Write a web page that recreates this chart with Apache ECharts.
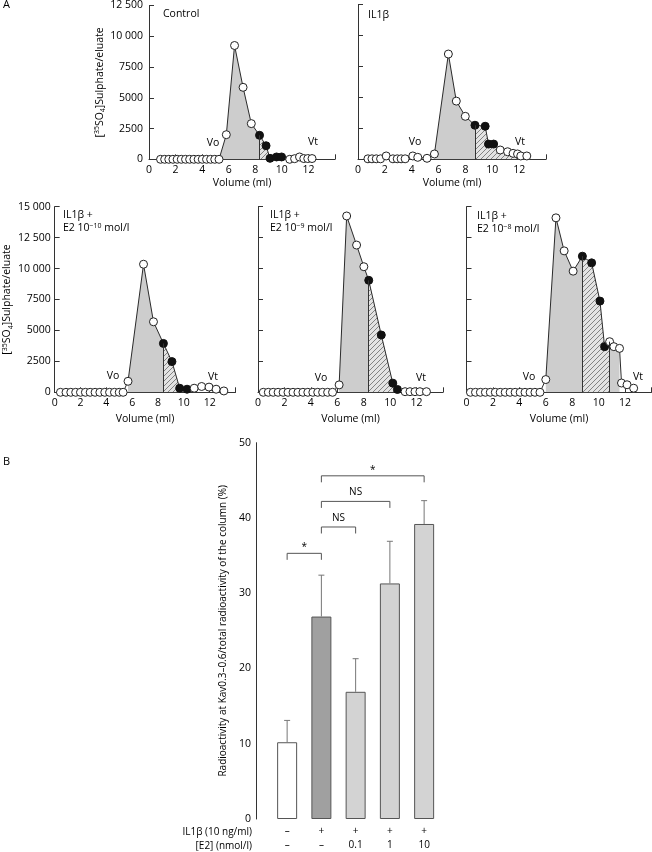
<!DOCTYPE html>
<html><head><meta charset="utf-8">
<script src="https://cdn.jsdelivr.net/npm/echarts@6/dist/echarts.min.js"></script>
<style>html,body{margin:0;padding:0;background:#fff}#c{width:652px;height:852px}</style>
</head><body><div id="c"></div>
<script>
// ---------- Panel A data (volume in ml, [35S]O4 counts per eluate fraction) ----------
const volControl = [0.87,1.18,1.49,1.80,2.12,2.43,2.75,3.06,3.38,3.70,4.01,4.33,4.64,4.95,5.27,5.82,6.44,7.08,7.70,8.32,8.81,9.11,9.60,9.98,10.59,10.96,11.33,11.65,11.95,12.27];
const cpmControl = [0,0,0,0,0,0,0,0,0,0,0,0,0,0,0,2000,9250,5850,2900,1950,1100,80,190,190,0,50,190,60,60,60];
const fillControl = [0,0,0,0,0,0,0,0,0,0,0,0,0,0,0,0,0,0,0,1,1,1,1,1,0,0,0,0,0,0];

const volIL1 = [0.74,1.04,1.36,1.68,2.10,2.60,2.92,3.21,3.51,4.08,4.45,5.14,5.69,6.73,7.32,7.99,8.71,9.47,9.72,10.10,10.59,11.14,11.55,11.88,12.12,12.57];
const cpmIL1 = [40,40,40,40,270,40,40,40,40,270,160,80,430,8500,4700,3470,2750,2670,1230,1230,750,610,480,430,270,270];
const fillIL1 = [0,0,0,0,0,0,0,0,0,0,0,0,0,0,0,0,1,1,1,1,0,0,0,0,0,0];

const volE10 = [0.45,0.88,1.25,1.63,2.00,2.38,2.75,3.13,3.50,3.88,4.25,4.63,5.00,5.30,5.68,6.88,7.65,8.42,9.08,9.68,10.25,10.80,11.38,11.95,12.50,13.10];
const cpmE10 = [0,0,0,0,0,0,0,0,0,0,0,0,0,0,890,10350,5700,3950,2480,330,250,330,470,420,250,110];
const fillE10 = [0,0,0,0,0,0,0,0,0,0,0,0,0,0,0,0,0,1,1,1,1,0,0,0,0,0];

const volE9 = [0.40,0.78,1.15,1.52,1.90,2.27,2.65,3.02,3.40,3.77,4.15,4.52,4.89,5.27,5.64,6.14,6.71,7.46,8.01,8.38,9.33,10.20,10.55,11.13,11.50,11.88,12.25,12.75];
const cpmE9 = [0,0,0,0,0,0,0,0,0,0,0,0,0,0,0,600,14250,11900,10150,9050,4630,740,230,50,50,50,50,50];
const fillE9 = [0,0,0,0,0,0,0,0,0,0,0,0,0,0,0,0,0,0,0,1,1,1,1,0,0,0,0,0];

const volE8 = [0.30,0.68,1.05,1.43,1.80,2.18,2.55,2.93,3.30,3.68,4.06,4.43,4.81,5.18,5.56,6.00,6.77,7.39,8.07,8.77,9.47,10.10,10.45,10.83,11.15,11.58,11.73,12.15,12.65];
const cpmE8 = [0,0,0,0,0,0,0,0,0,0,0,0,0,0,0,1030,14100,11430,9790,11000,10460,7370,3690,4090,3690,3550,750,610,330];
const fillE8 = [0,0,0,0,0,0,0,0,0,0,0,0,0,0,0,0,0,0,0,1,1,1,1,0,0,0,0,0,0];

// fraction index ranges: grey area [from,to], hatched Kav0.3-0.6 area [from,to]
const greyRange  = [[14,19],[12,16],[14,17],[15,19],[15,25]];
const hatchRange = [[19,21],[16,24],[17,19],[19,22],[19,23]];
const hatchEdges = [[19],[16],[17],[19],[19,23]];

const xTickLabels = [0,2,4,6,8,10,12];
const yTicksTop = [0,2500,5000,7500,10000,12500];
const yTicksMid = [0,2500,5000,7500,10000,12500,15000];

// ---------- Panel B data ----------
const il1Row = ['–','+','+','+','+'];
const e2Row  = ['–','–','0.1','1','10'];
const meanPct = [10.2,26.9,16.9,31.3,39.2];
const sdPct   = [2.9,5.5,4.4,5.6,3.1];
const sigFrom  = [0,1,1,1];
const sigTo    = [1,2,3,4];
const sigLevel = [35.3,38.8,42.2,45.6];
const sigText  = ['*','NS','NS','*'];
</script>
<script>
const FONT = '"Open Sans", sans-serif';
const INK = '#000';
function hatchCanvas(){
  const c=document.createElement('canvas'); c.width=5; c.height=5;
  const g=c.getContext('2d');
  g.fillStyle='#e3e3e3'; g.fillRect(0,0,5,5);
  g.strokeStyle='#6a6a6a'; g.lineWidth=0.8;
  g.beginPath(); g.moveTo(0,5); g.lineTo(5,0); g.moveTo(-1,1); g.lineTo(1,-1); g.moveTo(4,6); g.lineTo(6,4); g.stroke();
  return c;
}
const hatchImg = hatchCanvas();

const panels = [
  {vol:volControl,cpm:cpmControl,fill:fillControl,grid:{left:149,top:4.5,width:186,height:154.8},ymax:12500,yLabels:true,yName:true,nameGap:38,xGap:18,labMargin:6},
  {vol:volIL1,cpm:cpmIL1,fill:fillIL1,grid:{left:358,top:4.5,width:188,height:154.8},ymax:12500,yLabels:false,yName:false,xGap:18},
  {vol:volE10,cpm:cpmE10,fill:fillE10,grid:{left:50.5,top:206.7,width:185,height:185.6},ymax:15000,yLabels:true,yName:true,nameGap:36,xGap:21,labMargin:4},
  {vol:volE9,cpm:cpmE9,fill:fillE9,grid:{left:258,top:206.7,width:185,height:185.6},ymax:15000,yLabels:false,yName:false,xGap:21},
  {vol:volE8,cpm:cpmE8,fill:fillE8,grid:{left:466.5,top:206.7,width:185,height:185.6},ymax:15000,yLabels:false,yName:false,xGap:21}
];

function fmtY(v){ return v>=10000 ? Math.floor(v/1000)+' '+String(v%1000).padStart(3,'0') : String(v); }
const supRich = {
  sup:{fontSize:7,fontFamily:FONT,color:INK,verticalAlign:'top',lineHeight:13,padding:[0,0,4,0]},
  sub:{fontSize:7,fontFamily:FONT,color:INK,verticalAlign:'bottom',lineHeight:13,padding:[4,0,0,0]}
};

const grids=[], xAxes=[], yAxes=[], series=[];
panels.forEach((p,i)=>{
  grids.push(Object.assign({containLabel:false},p.grid));
  xAxes.push({type:'value',gridIndex:i,min:0,max:14,interval:2,
    axisLine:{lineStyle:{color:'#333',width:1}},
    axisTick:{inside:true,length:5,lineStyle:{color:'#333'}},
    axisLabel:{customValues:xTickLabels,fontSize:10.5,color:INK,fontFamily:FONT,margin:5},
    splitLine:{show:false},
    name:'Volume (ml)',nameLocation:'middle',nameGap:p.xGap,
    nameTextStyle:{fontSize:10.5,color:INK,fontFamily:FONT,verticalAlign:'top'}});
  const yt = p.ymax===15000 ? yTicksMid : yTicksTop;
  yAxes.push({type:'value',gridIndex:i,min:0,max:p.ymax,interval:2500,
    axisLine:{show:true,lineStyle:{color:'#333',width:1}},
    axisTick:{show:true,inside:true,length:5,lineStyle:{color:'#333'}},
    axisLabel:{show:p.yLabels,customValues:yt,formatter:fmtY,fontSize:10.5,color:INK,fontFamily:FONT,margin:p.labMargin||6},
    splitLine:{show:false},
    name:p.yName?'[{sup|35}SO{sub|4}]Sulphate/eluate':'',nameLocation:'middle',nameGap:p.nameGap||30,nameRotate:90,
    nameTextStyle:{fontSize:10.5,color:INK,fontFamily:FONT,rich:supRich}});
  const pts = p.vol.map((v,k)=>[v,p.cpm[k]]);
  const g = greyRange[i], h = hatchRange[i];
  series.push({type:'line',xAxisIndex:i,yAxisIndex:i,data:pts.slice(g[0],g[1]+1),symbol:'none',
    lineStyle:{width:0},areaStyle:{color:'#cdcdcd',opacity:1},z:1,silent:true});
  series.push({type:'line',xAxisIndex:i,yAxisIndex:i,data:pts.slice(h[0],h[1]+1),symbol:'none',
    lineStyle:{width:0},areaStyle:{color:{image:hatchImg,repeat:'repeat'},opacity:1},z:2,silent:true,
    markLine:{silent:true,symbol:['none','none'],label:{show:false},animation:false,
      lineStyle:{color:'#333',width:1,type:'solid'},
      data:hatchEdges[i].map(k=>[{coord:[p.vol[k],0]},{coord:[p.vol[k],p.cpm[k]]}])}});
  series.push({type:'line',xAxisIndex:i,yAxisIndex:i,z:3,silent:true,
    data:pts.map((pt,k)=>({value:pt,itemStyle:p.fill[k]?{color:'#111',borderColor:'#111'}:{color:'#fff',borderColor:'#222'}})),
    symbol:'circle',symbolSize:8,showAllSymbol:true,
    lineStyle:{color:'#2a2a2a',width:1},
    itemStyle:{color:'#fff',borderColor:'#222',borderWidth:1}});
});

// ---------- Panel B ----------
const bi = 5;
grids.push({left:270,top:442.7,width:171.25,height:378.3});
xAxes.push({type:'category',gridIndex:bi,data:il1Row.map((a,k)=>a+'\n'+e2Row[k]),
  axisLine:{show:false},axisTick:{show:false},
  axisLabel:{fontSize:10,color:INK,fontFamily:FONT,lineHeight:14,margin:5}});
yAxes.push({type:'value',gridIndex:bi,min:0,max:50,interval:10,offset:14,
  axisLine:{show:true,lineStyle:{color:'#333'}},
  axisTick:{inside:true,length:6,lineStyle:{color:'#333'}},
  axisLabel:{fontSize:10.5,color:INK,fontFamily:FONT,margin:5},
  splitLine:{show:false},
  name:'Radioactivity at Kav0.3–0.6/total radioactivity of the column (%)',
  nameLocation:'middle',nameRotate:90,nameGap:28,
  nameTextStyle:{fontSize:10,color:INK,fontFamily:FONT}});
const barColors = ['#ffffff','#a0a0a0','#d3d3d3','#d3d3d3','#d3d3d3'];
series.push({type:'bar',xAxisIndex:bi,yAxisIndex:bi,barWidth:20,silent:true,z:2,
  data:meanPct.map((m,k)=>({value:m,itemStyle:{color:barColors[k],borderColor:'#555',borderWidth:1}}))});
series.push({type:'custom',xAxisIndex:bi,yAxisIndex:bi,silent:true,z:3,
  data:meanPct.map((m,k)=>[k,m,m+sdPct[k]]),
  renderItem:(params,api)=>{
    const a=api.coord([api.value(0),api.value(1)]);
    const b=api.coord([api.value(0),api.value(2)]);
    const st={stroke:'#777',lineWidth:1};
    return {type:'group',children:[
      {type:'line',shape:{x1:a[0],y1:a[1],x2:b[0],y2:b[1]},style:st},
      {type:'line',shape:{x1:b[0]-3,y1:b[1],x2:b[0]+3,y2:b[1]},style:st}]};
  }});
series.push({type:'custom',xAxisIndex:bi,yAxisIndex:bi,silent:true,z:3,
  data:sigFrom.map((f,k)=>[f,sigLevel[k],sigTo[k]]),
  renderItem:(params,api)=>{
    const p1=api.coord([api.value(0),api.value(1)]);
    const p2=api.coord([api.value(2),api.value(1)]);
    const d=6.5;
    const t=sigText[params.dataIndex];
    const star=t==='*';
    return {type:'group',children:[
      {type:'polyline',shape:{points:[[p1[0],p1[1]+d],[p1[0],p1[1]],[p2[0],p2[1]],[p2[0],p2[1]+d]]},style:{stroke:'#555',lineWidth:1,fill:null}},
      {type:'text',x:(p1[0]+p2[0])/2,y:star?p1[1]-1:p1[1]-4,style:{text:t,fontSize:10,fontFamily:FONT,fill:INK,align:'center',verticalAlign:'bottom'}}]};
  }});

// ---------- free texts ----------
function txt(x,y,text,extra){ return {type:'text',x:x,y:y,silent:true,style:Object.assign({text:text,fontSize:10.5,fontFamily:FONT,fill:INK,verticalAlign:'middle'},extra||{})}; }
const richTitle = {sup:{fontSize:7,fontFamily:FONT,fill:INK,verticalAlign:'top',lineHeight:13,padding:[0,0,5,0]}};
const graphics = [
  txt(3,5,'A',{fontSize:11}),
  txt(3,462,'B',{fontSize:11}),
  txt(163,14,'Control'),
  txt(368,15,'IL1β'),
  txt(63,222,'IL1β +\nE2 10{sup|−10} mol/l',{rich:richTitle,lineHeight:13}),
  txt(270,222,'IL1β +\nE2 10{sup|−9} mol/l',{rich:richTitle,lineHeight:13}),
  txt(477,223,'IL1β +\nE2 10{sup|−8} mol/l',{rich:richTitle,lineHeight:13}),
  txt(213,143,'Vo',{align:'center'}), txt(313,142,'Vt',{align:'center'}),
  txt(415,142,'Vo',{align:'center'}), txt(520,142,'Vt',{align:'center'}),
  txt(113,376,'Vo',{align:'center'}), txt(213,377,'Vt',{align:'center'}),
  txt(321,378,'Vo',{align:'center'}), txt(421,378,'Vt',{align:'center'}),
  txt(529,377,'Vo',{align:'center'}), txt(638,377,'Vt',{align:'center'}),
  txt(252,832,'IL1β (10 ng/ml)',{align:'right',fontSize:10}),
  txt(252,846,'[E2] (nmol/l)',{align:'right',fontSize:10})
];

const chart = echarts.init(document.getElementById('c'),null,{renderer:'canvas'});
chart.setOption({animation:false,backgroundColor:'#fff',grid:grids,xAxis:xAxes,yAxis:yAxes,series:series,graphic:graphics});
</script></body></html>
